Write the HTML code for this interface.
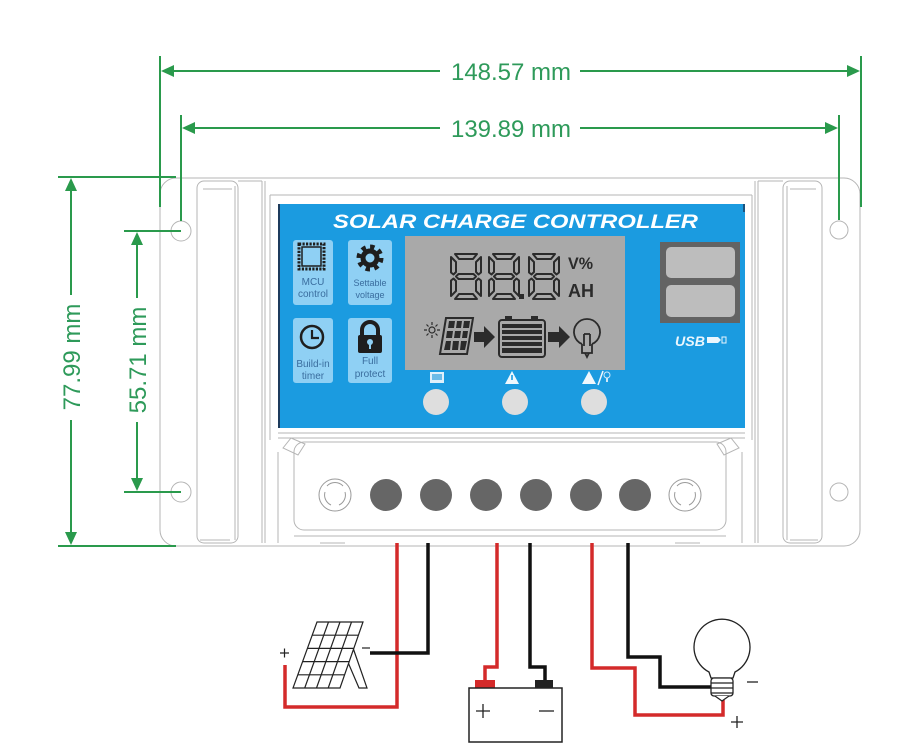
<!DOCTYPE html>
<html><head><meta charset="utf-8"><style>
html,body{margin:0;padding:0;background:#fff;}
svg{display:block;}
text{font-family:"Liberation Sans",sans-serif;}
</style></head><body>
<svg width="900" height="751" viewBox="0 0 900 751" xmlns="http://www.w3.org/2000/svg">
<rect width="900" height="751" fill="#fff"/>

<!-- ===== Controller body ===== -->
<g fill="none" stroke="#b5b5b5" stroke-width="1">
  <rect x="160" y="178" width="700" height="368" rx="16"/>
  <rect x="197" y="181" width="41" height="362" rx="7"/>
  <line x1="203" y1="189" x2="232" y2="189"/>
  <line x1="235" y1="186" x2="235" y2="540"/>
  <line x1="262" y1="181" x2="262" y2="543"/>
  <line x1="265" y1="181" x2="265" y2="543"/>
  <path d="M238,181 H262"/>
  <line x1="755" y1="181" x2="755" y2="543"/>
  <line x1="758" y1="181" x2="758" y2="543"/>
  <rect x="783" y="181" width="39" height="362" rx="7"/>
  <line x1="787" y1="186" x2="787" y2="540"/>
  <line x1="790" y1="189" x2="816" y2="189"/>
  <path d="M758,181 H783"/>
  <line x1="270" y1="195" x2="270" y2="440"/>
  <line x1="752" y1="195" x2="752" y2="440"/>
  <line x1="270" y1="195" x2="752" y2="195"/>
  <line x1="278" y1="433" x2="745" y2="433"/>
  <line x1="278" y1="438" x2="745" y2="438"/>
  <polygon points="283,448 291,438 305,444 298,455"/>
  <polygon points="717,444 731,438 739,448 724,455"/>
  <line x1="278" y1="452" x2="278" y2="543"/>
  <line x1="742" y1="452" x2="742" y2="543"/>
  <rect x="294" y="442" width="432" height="88" rx="10"/>
  <line x1="294" y1="536" x2="726" y2="536"/>
  <line x1="200" y1="540" x2="230" y2="540"/>
  <line x1="790" y1="540" x2="818" y2="540"/>
  <line x1="320" y1="543" x2="345" y2="543"/>
  <line x1="675" y1="543" x2="700" y2="543"/>
  <circle cx="181" cy="231" r="10"/>
  <circle cx="181" cy="492" r="10"/>
  <circle cx="839" cy="230" r="9"/>
  <circle cx="839" cy="492" r="9"/>
</g>

<!-- terminals -->
<g fill="#666">
  <circle cx="386" cy="495" r="16"/>
  <circle cx="436" cy="495" r="16"/>
  <circle cx="486" cy="495" r="16"/>
  <circle cx="536" cy="495" r="16"/>
  <circle cx="586" cy="495" r="16"/>
  <circle cx="635" cy="495" r="16"/>
</g>
<g fill="none" stroke="#9a9a9a" stroke-width="1">
  <circle cx="335" cy="495" r="16"/>
  <path d="M327,486 A11,11 0 0 1 343,486 M345,492 A11,11 0 0 1 339,505 M331,505 A11,11 0 0 1 325,492"/>
  <circle cx="685" cy="495" r="16"/>
  <path d="M677,486 A11,11 0 0 1 693,486 M695,492 A11,11 0 0 1 689,505 M681,505 A11,11 0 0 1 675,492"/>
</g>

<!-- ===== Blue panel ===== -->
<rect x="278" y="204" width="467" height="224" fill="#1b9be0"/>
<line x1="279" y1="204" x2="279" y2="428" stroke="#1d3b5c" stroke-width="2"/>
<line x1="744" y1="204" x2="744" y2="212" stroke="#1d3b5c" stroke-width="1.5"/>
<text x="333" y="228" font-size="19" font-weight="bold" font-style="italic" fill="#fff" textLength="365" lengthAdjust="spacingAndGlyphs">SOLAR CHARGE CONTROLLER</text>

<g fill="#8fd0f4">
  <rect x="293" y="240" width="40" height="65" rx="3"/>
  <rect x="348" y="240" width="44" height="65" rx="3"/>
  <rect x="293" y="318" width="40" height="65" rx="3"/>
  <rect x="348" y="318" width="44" height="65" rx="3"/>
</g>
<rect x="299" y="244" width="25" height="25" fill="none" stroke="#1e1e1e" stroke-width="3" stroke-dasharray="2.2 1.3"/>
<rect x="302" y="247" width="19" height="19" fill="none" stroke="#1e1e1e" stroke-width="1.5"/>
<circle cx="370" cy="258" r="11" fill="none" stroke="#1e1e1e" stroke-width="5" stroke-dasharray="4.3 4.3"/>
<circle cx="370" cy="258" r="7" fill="none" stroke="#1e1e1e" stroke-width="5"/>
<circle cx="312" cy="337" r="11" fill="none" stroke="#1e1e1e" stroke-width="2.5"/>
<path d="M312,330 V338 H319" fill="none" stroke="#1e1e1e" stroke-width="2.2"/>
<path d="M362,336 V330 A8,8 0 0 1 378,330 V336" fill="none" stroke="#1e1e1e" stroke-width="4"/>
<rect x="358" y="335" width="24" height="18" rx="2" fill="#1e1e1e"/>
<circle cx="370" cy="342" r="3" fill="#8fd0f4"/>
<rect x="369" y="343" width="2" height="6" fill="#8fd0f4"/>
<g font-size="10" fill="#3a6d9e" text-anchor="middle">
  <text x="313" y="285">MCU</text>
  <text x="313" y="297">control</text>
  <text x="370" y="286" font-size="9">Settable</text>
  <text x="370" y="298" font-size="9">voltage</text>
  <text x="313" y="367">Build-in</text>
  <text x="313" y="379">timer</text>
  <text x="370" y="364">Full</text>
  <text x="370" y="377">protect</text>
</g>

<!-- LCD -->
<rect x="405" y="236" width="220" height="134" fill="#a9a9a9"/>
<defs>
  <g id="dg" fill="none" stroke="#2b2b2b" stroke-width="2" stroke-linejoin="round">
    <path d="M5,1 H27 L23,6 H9 Z"/>
    <path d="M1,4 L6,9 V19 L3.5,21.5 L1,19.5 Z"/>
    <path d="M31,4 V19.5 L28.5,21.5 L26,19 V9 Z"/>
    <path d="M6,23.5 L8.5,21 H23.5 L26,23.5 L23.5,26 H8.5 Z"/>
    <path d="M1,27.5 L3.5,25.5 L6,28 V38 L1,43 Z"/>
    <path d="M31,27.5 V43 L26,38 V28 L28.5,25.5 Z"/>
    <path d="M5,46 L9,41 H23 L27,46 Z"/>
  </g>
</defs>
<use href="#dg" x="450" y="253"/>
<use href="#dg" x="488" y="253"/>
<use href="#dg" x="528" y="253"/>
<rect x="519" y="294" width="5" height="5" fill="#2b2b2b"/>
<text x="568" y="269" font-size="17" font-weight="bold" fill="#2b2b2b" textLength="25" lengthAdjust="spacingAndGlyphs">V%</text>
<text x="568" y="297" font-size="18" font-weight="bold" fill="#2b2b2b" textLength="26" lengthAdjust="spacingAndGlyphs">AH</text>

<g stroke="#2b2b2b" stroke-width="1.2" fill="none">
  <circle cx="432" cy="330" r="3"/>
  <path d="M432,322 V325 M432,335 V338 M424,330 H427 M437,330 H440 M426.5,324.5 L428.5,326.5 M435.5,333.5 L437.5,335.5 M437.5,324.5 L435.5,326.5 M428.5,333.5 L426.5,335.5"/>
</g>
<polygon points="446,318 473,318 467,354 440,354" fill="#a9a9a9" stroke="#2b2b2b" stroke-width="2"/>
<g fill="#2b2b2b">
  <polygon points="449,321 455,321 454,328 448,328"/>
  <polygon points="457,321 462,321 461,328 456,328"/>
  <polygon points="464,321 470,321 469,328 463,328"/>
  <polygon points="447,331 453,331 452,338 446,338"/>
  <polygon points="455,331 461,331 460,338 454,338"/>
  <polygon points="463,331 468,331 467,338 462,338"/>
  <polygon points="446,341 451,341 450,350 444,350"/>
  <polygon points="453,341 459,341 458,350 452,350"/>
  <polygon points="461,341 467,341 465,350 460,350"/>
</g>
<polygon points="474,332 484,332 484,326 495,337 484,348 484,342 474,342" fill="#2b2b2b"/>
<polygon points="548,332 559,332 559,326 570,337 559,348 559,342 548,342" fill="#2b2b2b"/>
<rect x="505" y="316" width="7" height="4" fill="#2b2b2b"/>
<rect x="531" y="316" width="7" height="4" fill="#2b2b2b"/>
<rect x="499" y="320" width="46" height="37" rx="3" fill="none" stroke="#2b2b2b" stroke-width="2"/>
<g fill="#2b2b2b">
  <rect x="502" y="324" width="40" height="4"/>
  <rect x="502" y="330" width="40" height="4"/>
  <rect x="502" y="336" width="40" height="4"/>
  <rect x="502" y="342" width="40" height="4"/>
  <rect x="502" y="348" width="40" height="5"/>
</g>
<g fill="none" stroke="#2b2b2b" stroke-width="1.8">
  <path d="M582,344 A13,13 0 1 1 592,344"/>
  <path d="M582,344 V353 H592 V344"/>
  <path d="M584,334 V346 M590,334 V346 M584,334 H590"/>
  <path d="M585,353 L587,357 L589,353"/>
</g>

<rect x="430" y="372" width="14" height="11" fill="#dff0fb"/>
<rect x="432" y="374" width="10" height="6" fill="#6bbbe8"/>
<polygon points="512,371 519,384 505,384" fill="#eef7fd"/>
<rect x="511.2" y="375" width="1.6" height="5" fill="#1b9be0"/>
<polygon points="589,371 596,384 582,384" fill="#eef7fd"/>
<line x1="598" y1="385" x2="603" y2="371" stroke="#eef7fd" stroke-width="1.5"/>
<circle cx="607" cy="375" r="3" fill="none" stroke="#cfe8f8" stroke-width="1"/>
<rect x="606" y="378" width="2" height="4" fill="#cfe8f8"/>
<g fill="#dedede">
  <circle cx="436" cy="402" r="13"/>
  <circle cx="515" cy="402" r="13"/>
  <circle cx="594" cy="402" r="13"/>
</g>

<rect x="660" y="242" width="80" height="81" fill="#636363"/>
<rect x="666" y="247" width="69" height="31" rx="5" fill="#bdbdbd"/>
<rect x="666" y="285" width="69" height="32" rx="5" fill="#bdbdbd"/>
<text x="675" y="346" font-size="14" font-weight="bold" font-style="italic" fill="#eaf6fd" textLength="30" lengthAdjust="spacingAndGlyphs">USB</text>
<path d="M707,337 H718 L721,340 L718,343 H707 Z" fill="#eaf6fd"/>
<rect x="722" y="337" width="4" height="6" fill="none" stroke="#eaf6fd" stroke-width="1"/>

<!-- ===== Green dimensions ===== -->
<g stroke="#2a9a4c" stroke-width="2" fill="none">
  <line x1="160" y1="56" x2="160" y2="207"/>
  <line x1="861" y1="56" x2="861" y2="207"/>
  <line x1="166" y1="71" x2="440" y2="71"/>
  <line x1="580" y1="71" x2="855" y2="71"/>
  <line x1="181" y1="115" x2="181" y2="221"/>
  <line x1="839" y1="115" x2="839" y2="220"/>
  <line x1="187" y1="128" x2="440" y2="128"/>
  <line x1="580" y1="128" x2="833" y2="128"/>
  <line x1="58" y1="177" x2="176" y2="177"/>
  <line x1="58" y1="546" x2="176" y2="546"/>
  <line x1="71" y1="183" x2="71" y2="295"/>
  <line x1="71" y1="420" x2="71" y2="540"/>
  <line x1="124" y1="231" x2="181" y2="231"/>
  <line x1="124" y1="492" x2="181" y2="492"/>
  <line x1="137" y1="237" x2="137" y2="298"/>
  <line x1="137" y1="422" x2="137" y2="486"/>
</g>
<g fill="#2a9a4c">
  <polygon points="161,71 174,65 174,77"/>
  <polygon points="860,71 847,65 847,77"/>
  <polygon points="182,128 195,122 195,134"/>
  <polygon points="838,128 825,122 825,134"/>
  <polygon points="71,178 65,191 77,191"/>
  <polygon points="71,545 65,532 77,532"/>
  <polygon points="137,232 131,245 143,245"/>
  <polygon points="137,491 131,478 143,478"/>
</g>
<g font-size="24" fill="#2e9a5a" text-anchor="middle">
  <text x="511" y="80">148.57 mm</text>
  <text x="511" y="137">139.89 mm</text>
  <text transform="translate(80,357) rotate(-90)" x="0" y="0">77.99 mm</text>
  <text transform="translate(146,360) rotate(-90)" x="0" y="0">55.71 mm</text>
</g>

<!-- ===== Wiring ===== -->
<g fill="none" stroke-width="3.5" stroke-linejoin="miter">
  <path d="M397,543 V707 H285 V665" stroke="#d42a2a"/>
  <path d="M428,543 V653 H370" stroke="#111"/>
  <path d="M497,543 V667 H485 V681" stroke="#d42a2a"/>
  <path d="M530,543 V667 H545 V681" stroke="#111"/>
  <path d="M592,543 V668 H635 V715 H723 V700" stroke="#d42a2a"/>
  <path d="M628,543 V657 H660 V687 H711" stroke="#111"/>
</g>
<g fill="none" stroke="#222" stroke-width="1.2">
  <polygon points="352,645 367,688 359,688 347,660" fill="#fff"/>
  <polygon points="317,622 363,622 340,688 293,688" fill="#fff"/>
  <line x1="328.5" y1="622" x2="304.7" y2="688"/>
  <line x1="340" y1="622" x2="316.5" y2="688"/>
  <line x1="351.5" y1="622" x2="328.2" y2="688"/>
  <line x1="312.2" y1="635.2" x2="358.4" y2="635.2"/>
  <line x1="307.4" y1="648.4" x2="353.8" y2="648.4"/>
  <line x1="302.6" y1="661.6" x2="349.2" y2="661.6"/>
  <line x1="297.8" y1="674.8" x2="344.6" y2="674.8"/>
  <path d="M280,653 H289 M284.5,648.5 V657.5"/>
  <path d="M362,648 H370"/>
</g>
<rect x="475" y="680" width="20" height="8" fill="#d42a2a"/>
<rect x="535" y="680" width="18" height="8" fill="#222"/>
<rect x="469" y="688" width="93" height="54" fill="#fff" stroke="#222" stroke-width="1.5"/>
<g stroke="#222" stroke-width="1.3">
  <path d="M476,711 H490 M483,704 V718"/>
  <path d="M539,711 H554"/>
</g>
<g fill="#fff" stroke="#222" stroke-width="1.3">
  <path d="M709,672 A28,28 0 1 1 735,672 L733,678 H711 Z"/>
  <rect x="711" y="678" width="22" height="18" rx="3"/>
  <path d="M711,683 H733 M711,688 H733 M711,693 H733"/>
  <path d="M715,696 L722,701 L729,696"/>
</g>
<g stroke="#222" stroke-width="1.3">
  <path d="M747,682 H758"/>
  <path d="M731,722 H743 M737,716 V728"/>
</g>
</svg>
</body></html>
